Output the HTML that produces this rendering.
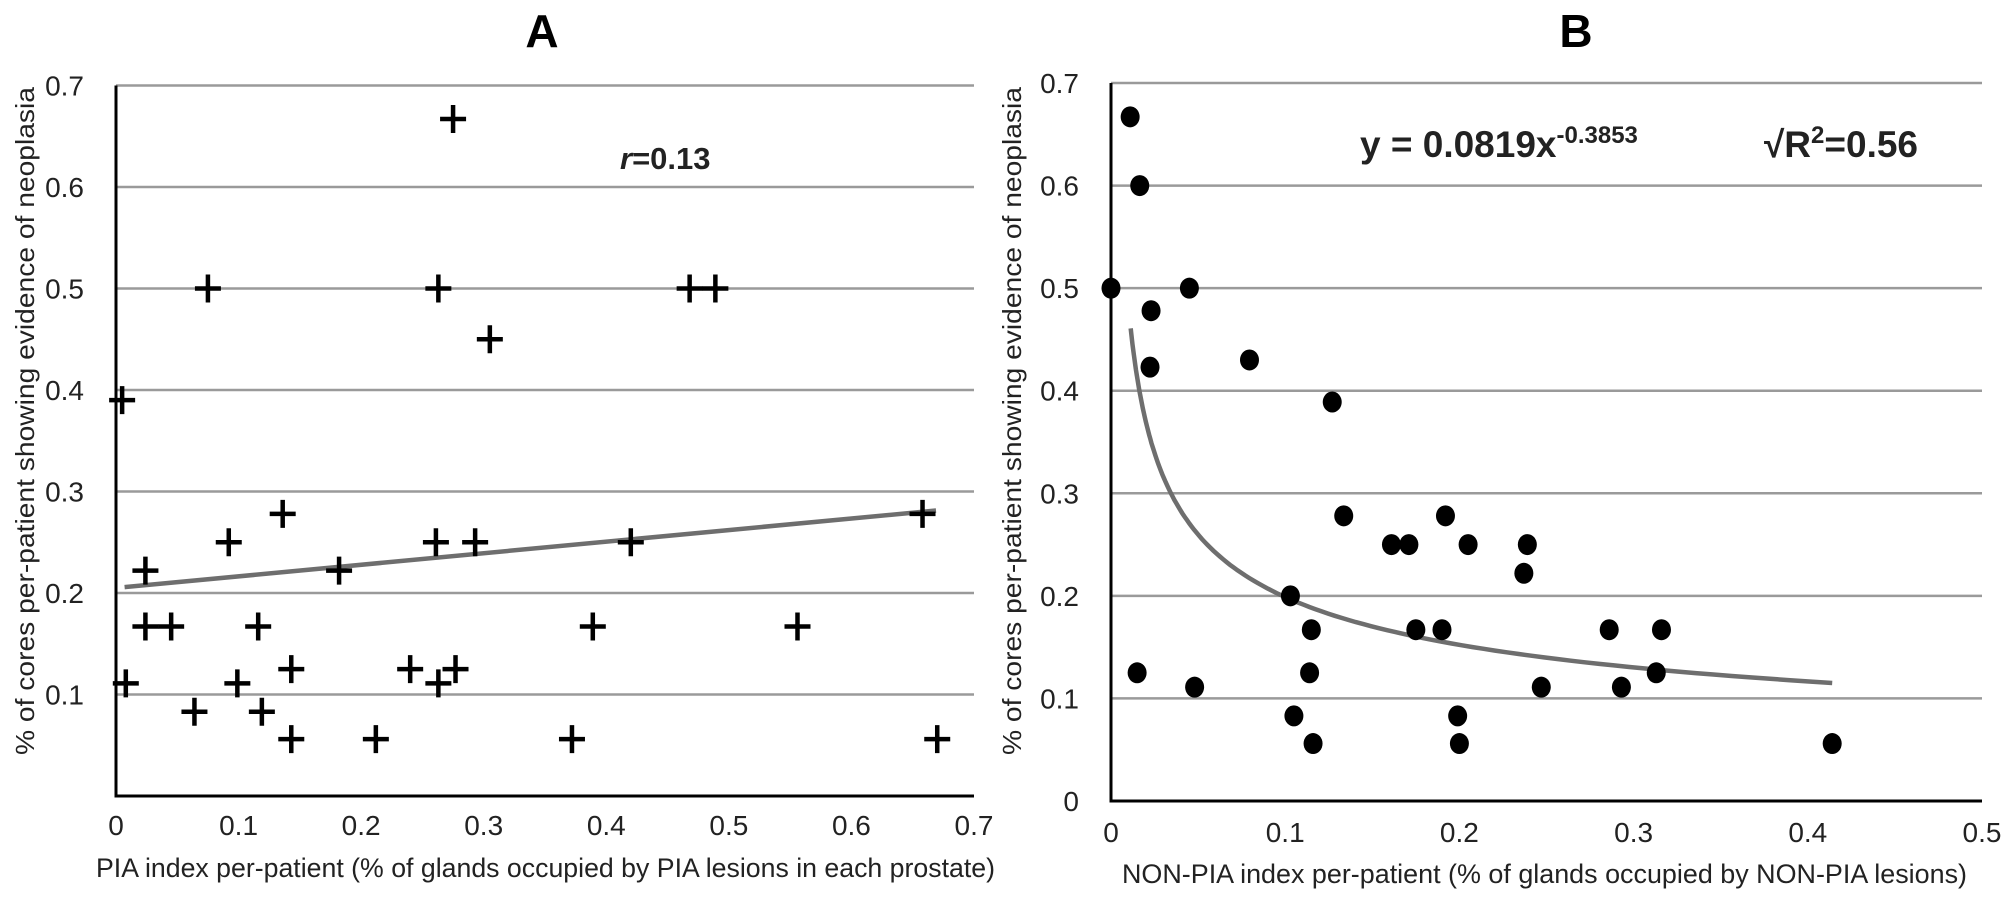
<!DOCTYPE html>
<html><head><meta charset="utf-8"><style>
html,body{margin:0;padding:0;background:#fff;}
svg{display:block;font-family:"Liberation Sans Narrow","Liberation Sans",sans-serif;}
</style></head><body>
<svg id="chart" width="2008" height="911" viewBox="0 0 2008 911" xmlns="http://www.w3.org/2000/svg">
<g id="panelA"></g>
<g id="panelB"></g>
</svg>
<script>
const aX=[0.136,0.092,0.024,0.182,0.261,0.293,0.42,0.658,0.024,0.045,0.116,0.389,0.556,0.008,0.099,0.263,0.143,0.24,0.277,0.064,0.119,0.143,0.212,0.372,0.67,0.275,0.075,0.263,0.468,0.489,0.305,0.005];
const aY=[0.278,0.25,0.222,0.222,0.25,0.25,0.25,0.278,0.167,0.167,0.167,0.167,0.167,0.111,0.111,0.111,0.125,0.125,0.125,0.083,0.083,0.056,0.056,0.056,0.056,0.667,0.5,0.5,0.5,0.5,0.45,0.39];
const aTrend=[0.205,0.114];
const aTrendRange=[0.007,0.669];
const aXTicks=["0","0.1","0.2","0.3","0.4","0.5","0.6","0.7"];
const aYTicks=["0.1","0.2","0.3","0.4","0.5","0.6","0.7"];
const bX=[0.1336,0.192,0.161,0.171,0.205,0.239,0.237,0.103,0.115,0.175,0.19,0.286,0.316,0.015,0.114,0.313,0.048,0.247,0.293,0.105,0.199,0.116,0.2,0.414,0.011,0.0165,0,0.045,0.023,0.0224,0.0795,0.127];
const bY=[0.278,0.278,0.25,0.25,0.25,0.25,0.222,0.2,0.167,0.167,0.167,0.167,0.167,0.125,0.125,0.125,0.111,0.111,0.111,0.083,0.083,0.056,0.056,0.056,0.667,0.6,0.5,0.5,0.478,0.423,0.43,0.389];
const bFit=[0.0819,-0.3853];
const bFitRange=[0.0113,0.414];
const bXTicks=["0","0.1","0.2","0.3","0.4","0.5"];
const bYTicks=["0","0.1","0.2","0.3","0.4","0.5","0.6","0.7"];

const NS="http://www.w3.org/2000/svg";
function mk(parent,tag,attrs,text){const e=document.createElementNS(NS,tag);for(const k in attrs)e.setAttribute(k,attrs[k]);if(text!==undefined)e.textContent=text;parent.appendChild(e);return e;}

// Panel A scales
const A={x0:116,x1:974,xmax:0.7,y0:796,y1:85.5,ymax:0.7};
const ax=v=>A.x0+(A.x1-A.x0)*v/A.xmax;
const ay=v=>A.y0-(A.y0-A.y1)*v/A.ymax;
const B={x0:1111,x1:1982,xmax:0.5,y0:801,y1:83,ymax:0.7};
const bx=v=>B.x0+(B.x1-B.x0)*v/B.xmax;
const by=v=>B.y0-(B.y0-B.y1)*v/B.ymax;

const gA=document.getElementById('panelA');
const gB=document.getElementById('panelB');

// Panel A
let t=mk(gA,'text',{x:542,y:47,'font-size':46,'font-weight':'bold','text-anchor':'middle','font-family':'Liberation Sans, sans-serif'},'A');


aYTicks.forEach(s=>{const v=parseFloat(s);
 let l=mk(gA,'line',{x1:A.x0,x2:A.x1,y1:ay(v),y2:ay(v),stroke:'#9a9a9a','stroke-width':2.5});
 
 
 let tx=mk(gA,'text',{x:84,y:ay(v)+10,'font-size':28,'text-anchor':'end',fill:'#222'},s);
 
 
});
aXTicks.forEach(s=>{const v=parseFloat(s);
 let tx=mk(gA,'text',{x:ax(v),y:835,'font-size':28,'text-anchor':'middle',fill:'#222'},s);
 
 
});
let axl=mk(gA,'path',{d:`M${A.x0} ${A.y1}V${A.y0}H${A.x1}`,fill:'none',stroke:'#000','stroke-width':3});


let tl=mk(gA,'line',{x1:ax(aTrendRange[0]),y1:ay(aTrend[0]+aTrend[1]*aTrendRange[0]),x2:ax(aTrendRange[1]),y2:ay(aTrend[0]+aTrend[1]*aTrendRange[1]),stroke:'#6e6e6e','stroke-width':4.5});


aX.forEach((x,i)=>{const cx=ax(x),cy=ay(aY[i]);
 let p=mk(gA,'path',{d:`M${cx-13} ${cy}H${cx+13}M${cx} ${cy-14}V${cy+14}`,stroke:'#000','stroke-width':4.5,fill:'none'});
 
 
});
let rt=mk(gA,'text',{x:620,y:169,'font-size':31,'font-weight':'bold',fill:'#222'});


mk(rt,'tspan',{'font-style':'italic'},'r');
mk(rt,'tspan',{},'=0.13');
let xt=mk(gA,'text',{x:96,y:877,'font-size':27,fill:'#222',textLength:899,lengthAdjust:'spacingAndGlyphs'},'PIA index per-patient (% of glands occupied by PIA lesions in each prostate)');


let yt=mk(gA,'text',{x:0,y:0,'font-size':26,fill:'#222','font-family':'Liberation Sans, sans-serif',textLength:668,lengthAdjust:'spacingAndGlyphs',transform:'translate(34,755) rotate(-90)'},'% of cores per-patient showing evidence of neoplasia');



// Panel B
t=mk(gB,'text',{x:1576,y:47,'font-size':46,'font-weight':'bold','text-anchor':'middle','font-family':'Liberation Sans, sans-serif'},'B');


bYTicks.forEach(s=>{const v=parseFloat(s);
 if(v>0){let l=mk(gB,'line',{x1:B.x0,x2:B.x1,y1:by(v),y2:by(v),stroke:'#9a9a9a','stroke-width':2.5});
 
 }
 let tx=mk(gB,'text',{x:1079,y:by(v)+10,'font-size':28,'text-anchor':'end',fill:'#222'},s);
 
 
});
bXTicks.forEach(s=>{const v=parseFloat(s);
 let tx=mk(gB,'text',{x:bx(v),y:842,'font-size':28,'text-anchor':'middle',fill:'#222'},s);
 
 
});
axl=mk(gB,'path',{d:`M${B.x0} ${B.y1}V${B.y0}H${B.x1}`,fill:'none',stroke:'#000','stroke-width':3});


let pts=[];for(let i=0;i<=120;i++){const x=bFitRange[0]*Math.pow(bFitRange[1]/bFitRange[0],i/120);pts.push(`${bx(x).toFixed(1)},${by(bFit[0]*Math.pow(x,bFit[1])).toFixed(1)}`);}
let cl=mk(gB,'polyline',{points:pts.join(' '),fill:'none',stroke:'#6e6e6e','stroke-width':4.5});


bX.forEach((x,i)=>{
 let c=mk(gB,'ellipse',{cx:bx(x),cy:by(bY[i]),rx:9.5,ry:10.5,fill:'#000'});
 
 
});
let eq=mk(gB,'text',{x:1360,y:157,'font-size':37,'font-weight':'bold',fill:'#222'});


mk(eq,'tspan',{},'y = 0.0819x');
mk(eq,'tspan',{dy:-14,'font-size':24},'-0.3853');
let r2=mk(gB,'text',{x:1764,y:157,'font-size':37,'font-weight':'bold',fill:'#222'});


mk(r2,'tspan',{},'√R');
mk(r2,'tspan',{dy:-14,'font-size':24},'2');
mk(r2,'tspan',{dy:14},'=0.56');
xt=mk(gB,'text',{x:1122,y:883,'font-size':27,fill:'#222',textLength:845,lengthAdjust:'spacingAndGlyphs'},'NON-PIA index per-patient (% of glands occupied by NON-PIA lesions)');


yt=mk(gB,'text',{x:0,y:0,'font-size':26,fill:'#222','font-family':'Liberation Sans, sans-serif',textLength:668,lengthAdjust:'spacingAndGlyphs',transform:'translate(1021,755) rotate(-90)'},'% of cores per-patient showing evidence of neoplasia');


</script>
</body></html>
